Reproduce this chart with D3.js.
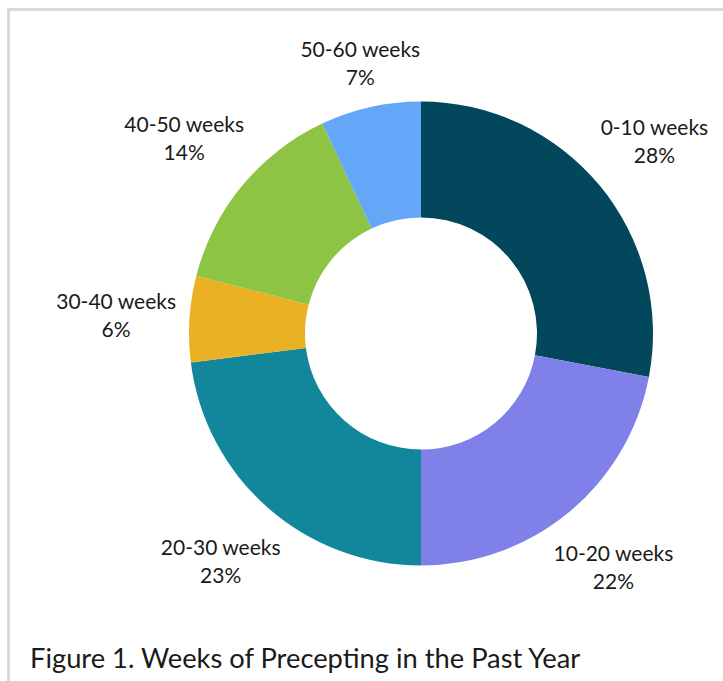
<!DOCTYPE html>
<html>
<head>
<meta charset="utf-8">
<script src="https://cdn.jsdelivr.net/npm/d3@7"></script>
<style>
  html, body { margin: 0; padding: 0; background: #ffffff; }
  svg { display: block; }
  text { font-family: Lato, "Noto Sans", sans-serif; fill: #1a1a1a; }
</style>
</head>
<body>
<svg id="chart" width="723" height="681"></svg>
<script>
// Share of preceptors by weeks of precepting in the past year
const categories = ["0-10 weeks", "10-20 weeks", "20-30 weeks", "30-40 weeks", "40-50 weeks", "50-60 weeks"];
const percents = [28, 22, 23, 6, 14, 7];
const colors = ["#02475c", "#7f80e8", "#12879b", "#ebb125", "#8dc443", "#64a6f7"];
const title = "Figure 1. Weeks of Precepting in the Past Year";

const W = 723, H = 681;
const cx = 421, cy = 333.5;
const outerR = 232, innerR = 116;
const labelGap = 13;
const lineStep = 28;

const svg = d3.select("#chart");

// panel frame (top and left edges visible)
svg.append("path")
  .attr("d", `M8.5,${H + 5} V9.5 H${W + 5}`)
  .attr("fill", "none")
  .attr("stroke", "#d9d9d9")
  .attr("stroke-width", 3);

const data = categories.map((c, i) => ({ cat: c, value: percents[i], color: colors[i] }));

const pie = d3.pie().value(d => d.value).sort(null);
const arc = d3.arc().innerRadius(innerR).outerRadius(outerR);
const arcs = pie(data);

const g = svg.append("g").attr("transform", `translate(${cx},${cy})`);

g.selectAll("path.slice")
  .data(arcs)
  .join("path")
  .attr("class", "slice")
  .attr("d", arc)
  .attr("fill", d => d.data.color);

// outside labels: each two-line box is pushed out along its slice's mid angle
// until the box's nearest point sits a fixed gap beyond the outer radius
const labels = g.selectAll("g.label")
  .data(arcs)
  .join("g")
  .attr("class", "label");

labels.append("text")
  .attr("text-anchor", "middle")
  .attr("font-size", 21)
  .attr("y", 0)
  .text(d => d.data.cat);
labels.append("text")
  .attr("text-anchor", "middle")
  .attr("font-size", 21)
  .attr("y", lineStep)
  .text(d => d.data.value + "%");

labels.each(function(d) {
  const node = d3.select(this);
  const bb = this.getBBox();
  const hw = bb.width / 2, hh = bb.height / 2;
  const mid = (d.startAngle + d.endAngle) / 2;
  const ux = Math.sin(mid), uy = -Math.cos(mid);
  const nearest = dist => {
    const px = ux * dist, py = uy * dist;
    const nx = Math.max(px - hw, Math.min(0, px + hw));
    const ny = Math.max(py - hh, Math.min(0, py + hh));
    return Math.hypot(nx, ny);
  };
  let lo = 0, hi = outerR + 400;
  for (let k = 0; k < 60; k++) {
    const m = (lo + hi) / 2;
    if (nearest(m) < outerR + labelGap) lo = m; else hi = m;
  }
  const px = ux * hi, py = uy * hi;
  const offX = bb.x + hw, offY = bb.y + hh;
  node.attr("transform", `translate(${px - offX},${py - offY})`);
});

svg.append("text")
  .attr("x", 30)
  .attr("y", 668)
  .attr("font-size", 27.3)
  .text(title);
</script>
</body>
</html>
